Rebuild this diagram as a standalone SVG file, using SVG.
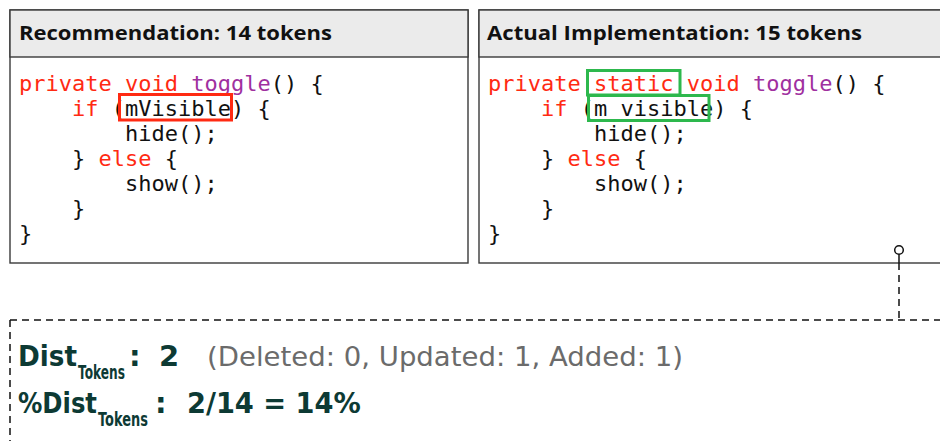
<svg xmlns="http://www.w3.org/2000/svg" width="940" height="441" viewBox="0 0 940 441">
<style>
.box{fill:#ffffff;stroke:#3a3a3a;stroke-width:1.4}
.hdr{fill:#ebebeb;stroke:#3a3a3a;stroke-width:1.4}
.htxt{font-family:"Open Sans","Noto Sans",sans-serif;font-weight:bold;font-size:20px;fill:#111}
.code{font-family:"DejaVu Sans Mono",monospace;font-size:22px;fill:#111;white-space:pre}
.kw{fill:#ff2a12}
.fn{fill:#a0309f}
.hlr{fill:none;stroke:#ff2a12;stroke-width:3}
.hlg{fill:none;stroke:#2db84d;stroke-width:3}
.dash{fill:none;stroke:#111;stroke-width:1.5;stroke-dasharray:7 5}
.m{font-family:"DejaVu Sans",sans-serif;font-weight:bold;fill:#0d3a34;font-size:29px}
.s{font-family:"DejaVu Sans",sans-serif;font-weight:bold;fill:#0d3a34;font-size:19px}
.g{font-family:"DejaVu Sans",sans-serif;fill:#6b6b6b;font-size:27px}
</style>
<rect width="940" height="441" fill="#ffffff"/>
<g id="recommendation">
<rect class="box" x="10" y="10" width="458" height="253"/>
<rect class="hdr" x="10" y="10" width="458" height="47"/>
<text class="htxt" x="19" y="39.5" textLength="313" lengthAdjust="spacingAndGlyphs">Recommendation: 14 tokens</text>
<text class="code" xml:space="preserve"><tspan x="19" y="91"><tspan class="kw">private</tspan> <tspan class="kw">void</tspan> <tspan class="fn">toggle</tspan>() {</tspan><tspan x="19" y="116">    <tspan class="kw">if</tspan> (mVisible) {</tspan><tspan x="19" y="141">        hide();</tspan><tspan x="19" y="166">    } <tspan class="kw">else</tspan> {</tspan><tspan x="19" y="191">        show();</tspan><tspan x="19" y="216">    }</tspan><tspan x="19" y="241">}</tspan></text>
<rect class="hlr" x="119.5" y="94.5" width="112" height="25.5"/>
</g>
<g id="actual">
<rect class="box" x="479" y="10" width="470" height="253"/>
<rect class="hdr" x="479" y="10" width="470" height="47"/>
<text class="htxt" x="487" y="39.5" textLength="375" lengthAdjust="spacingAndGlyphs">Actual Implementation: 15 tokens</text>
<text class="code" xml:space="preserve"><tspan x="488" y="91"><tspan class="kw">private</tspan> <tspan class="kw">static</tspan> <tspan class="kw">void</tspan> <tspan class="fn">toggle</tspan>() {</tspan><tspan x="488" y="116">    <tspan class="kw">if</tspan> (m_visible) {</tspan><tspan x="488" y="141">        hide();</tspan><tspan x="488" y="166">    } <tspan class="kw">else</tspan> {</tspan><tspan x="488" y="191">        show();</tspan><tspan x="488" y="216">    }</tspan><tspan x="488" y="241">}</tspan></text>
<rect class="hlg" x="587.5" y="70.5" width="92.5" height="24.5"/>
<rect class="hlg" x="588.5" y="95.5" width="120.5" height="25"/>
</g>
<g id="metrics">
<path class="dash" d="M10,320 H940 M10,320 V441"/>
<text class="m" transform="translate(18,366) scale(0.906,1)">Dist</text>
<text class="s" transform="translate(78,379) scale(0.641,1)">Tokens</text>
<text class="m" x="129" y="366">:</text>
<text class="m" x="159" y="366">2</text>
<text class="g" x="207" y="366" textLength="476" lengthAdjust="spacingAndGlyphs">(Deleted: 0, Updated: 1, Added: 1)</text>
<text class="m" transform="translate(18,413) scale(0.839,1)">%Dist</text>
<text class="s" transform="translate(98,426) scale(0.681,1)">Tokens</text>
<text class="m" x="155" y="413">:</text>
<text class="m" transform="translate(187,413) scale(0.94,1)">2/14 = 14%</text>
</g>
<g id="connectors">
<circle cx="899" cy="250" r="4.3" fill="#ffffff" stroke="#111" stroke-width="1.5"/>
<line x1="899" y1="254.3" x2="899" y2="263" stroke="#111" stroke-width="1.5"/>
<line class="dash" x1="899" y1="263" x2="899" y2="320"/>
</g>
</svg>
